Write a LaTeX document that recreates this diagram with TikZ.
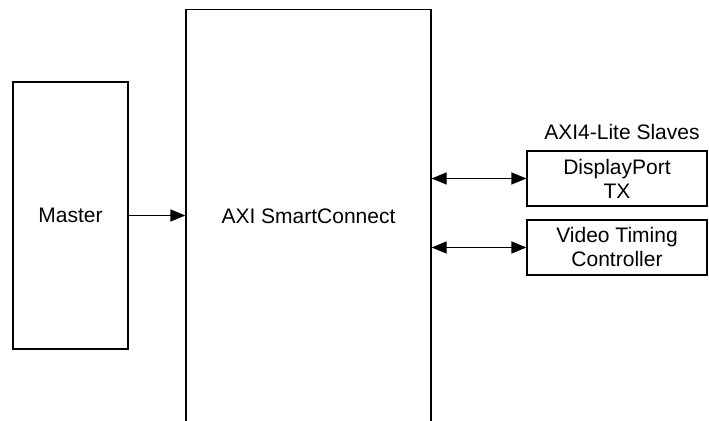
\documentclass[tikz,border=0pt]{standalone}
\usepackage{fontspec}
\setmainfont{Liberation Sans}
\usetikzlibrary{positioning,arrows.meta}

\begin{document}
\begin{tikzpicture}[x=0.5pt,y=0.5pt,
  block/.style={draw, line width=0.6pt, inner sep=0pt, align=center, font=\fontsize{10.5}{12}\selectfont},
  link/.style={line width=0.6pt, -{Triangle[length=7.5pt,width=6pt]}},
  biglink/.style={line width=0.6pt, {Triangle[length=7.5pt,width=6pt]}-{Triangle[length=7.5pt,width=6pt]}}]
\useasboundingbox (0,0) rectangle (709,421);
\clip (0,0) rectangle (709,421);
% blocks
\node[block, minimum width=57.5pt, minimum height=133.5pt] (master) at (70.5,205.5) {Master};
\node[block, minimum width=122.5pt, minimum height=206.5pt] (sc) at (308.5,205) {AXI SmartConnect};
\node[block, minimum width=90pt, minimum height=27.5pt] (dp) at (617,242.5) {DisplayPort\\TX};
\node[block, minimum width=90pt, minimum height=27.5pt] (vtc) at (617,173.5) {Video Timing\\Controller};
\node[font=\fontsize{10.5}{12}\selectfont, above=2pt of dp, xshift=2.5pt] (slaves) {AXI4-Lite Slaves};
% connections
\draw[link] (master.east) -- (master.east -| sc.west);
\draw[biglink] (dp.west -| sc.east) -- (dp.west);
\draw[biglink] (vtc.west -| sc.east) -- (vtc.west);
\end{tikzpicture}
\end{document}
